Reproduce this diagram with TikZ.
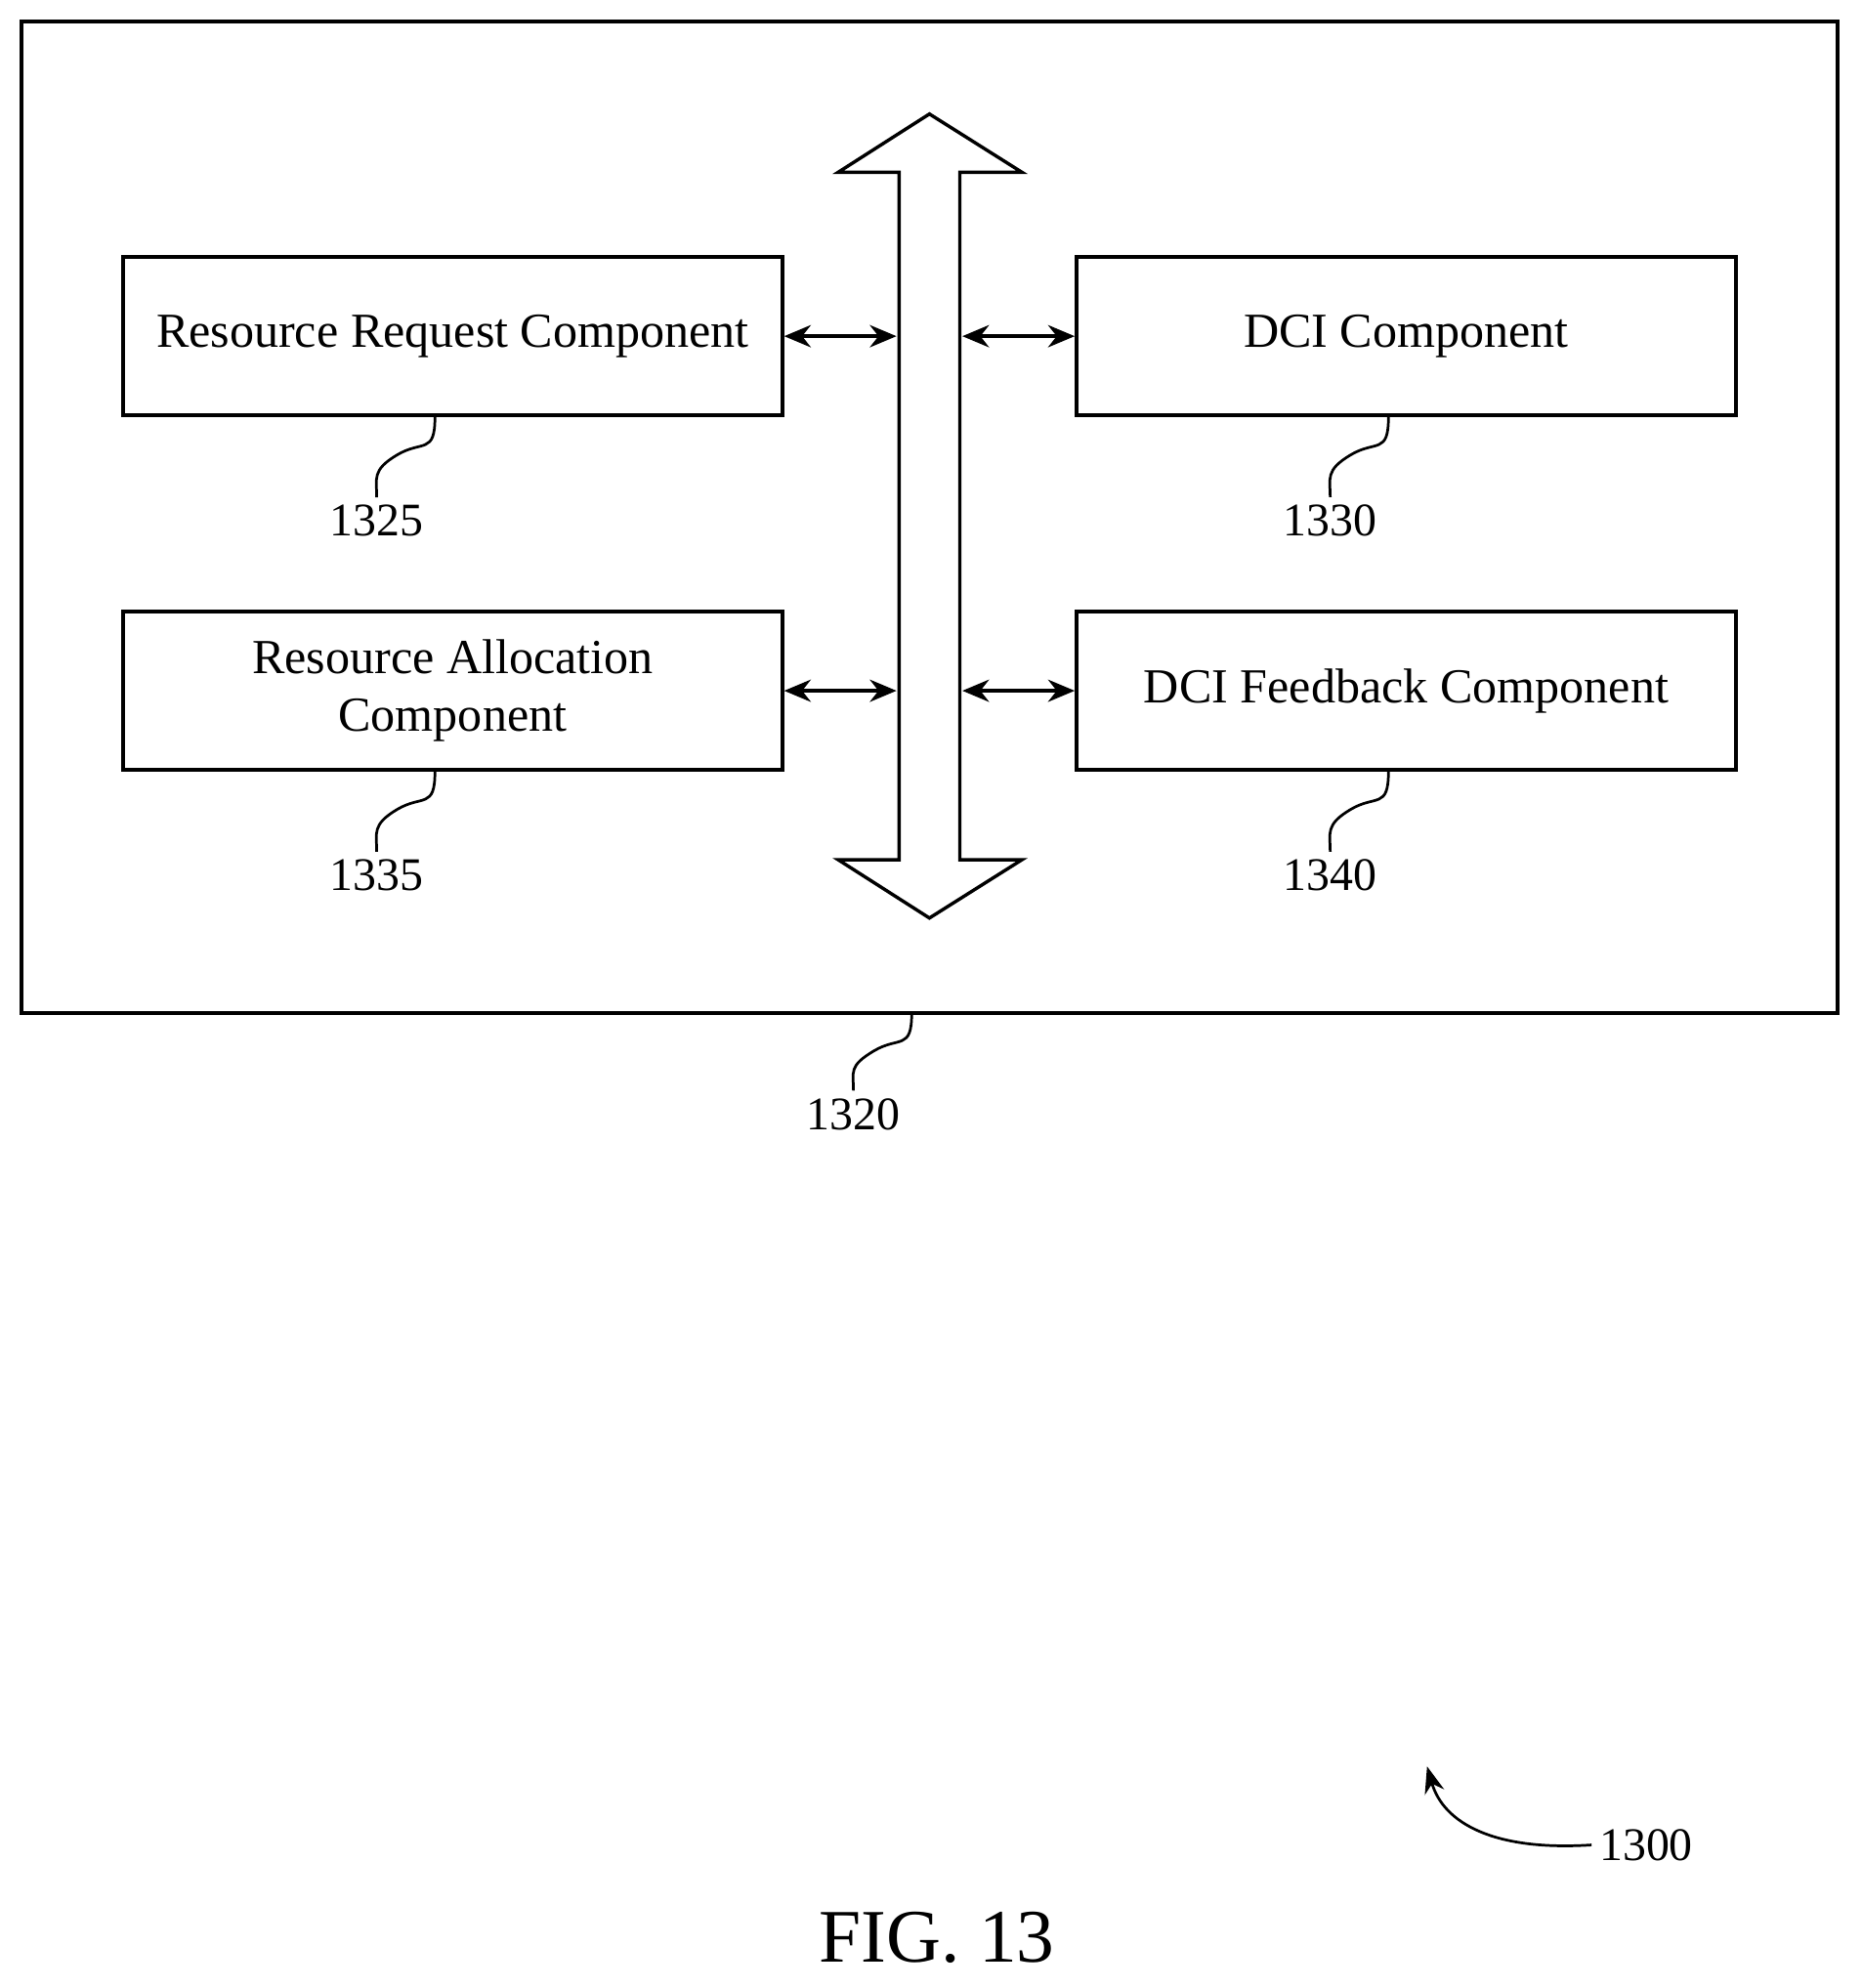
\documentclass[tikz,border=0pt]{standalone}
\usepackage{fontspec}
\setmainfont{Liberation Serif}
\usetikzlibrary{arrows.meta}
\begin{document}
\begin{tikzpicture}[x=0.02cm,y=-0.02cm]
\tikzstyle{comp}  = [rectangle, draw=black, line width=1.5pt, minimum width=10.42cm, minimum height=2.5cm, align=center, font=\fontsize{22}{26}\selectfont]
\tikzstyle{refno} = [font=\fontsize{21}{24}\selectfont]
\tikzstyle{link}  = [{Stealth[length=12pt,width=10pt]}-{Stealth[length=12pt,width=10pt]}, line width=1.5pt]
\tikzstyle{lead}  = [line width=1.2pt]
\useasboundingbox (0,0) rectangle (1470,1570);
\node[rectangle, draw=black, line width=1.8pt, minimum width=28.68cm, minimum height=15.66cm] at (734,408.5) (dev){};
\node[comp] at (357.5,265.5) (rrc) {Resource Request Component};
\node[comp] at (1110.5,265.5) (dci) {DCI Component};
\node[comp] at (357.5,545.5) (rac) {Resource Allocation\\Component};
\node[comp] at (1110.5,545.5) (dcif) {DCI Feedback Component};
\draw[line width=1.5pt, fill=white] (710,679) -- (710,136) -- (662,136) -- (734,90) -- (807,136) -- (758,136) -- (758,679) -- (807,679) -- (734,725) -- (662,679) -- cycle;
\coordinate (bus_l0) at (708,265.5);
\coordinate (bus_r0) at (760,265.5);
\coordinate (bus_l1) at (708,545.5);
\coordinate (bus_r1) at (760,545.5);
\draw[link] (rrc.east) -- (bus_l0);
\draw[link] (dci.west) -- (bus_r0);
\draw[link] (rac.east) -- (bus_l1);
\draw[link] (dcif.west) -- (bus_r1);
\foreach \cname/\num in {rrc/1325, dci/1330, rac/1335, dcif/1340}{
  \node[refno] at ([xshift=-60*0.02cm, yshift=-82*0.02cm]\cname.south) (n_\num) {\num};
  \draw[lead] ([xshift=-14*0.02cm]\cname.south) .. controls +(0,30) and +(20,-12) .. ++(-30,30) .. controls +(-20,12) and +(0,-15) .. (n_\num.north);
}
\node[refno] at (674,880) (n_1320) {1320};
\draw[lead] (720,800) .. controls +(0,30) and +(20,-12) .. ++(-30,30) .. controls +(-20,12) and +(0,-15) .. (n_1320.north);
\node[refno] at (1300,1457) (n_1300) {1300};
\coordinate (tip_1300) at (1127,1395);
\draw[lead, -{Stealth[length=12pt,width=9pt]}] (n_1300.west) .. controls (1180,1462) and (1140,1440) .. (tip_1300);
\node[font=\fontsize{34}{40}\selectfont] at (740,1530) (fig) {FIG. 13};
\end{tikzpicture}
\end{document}
